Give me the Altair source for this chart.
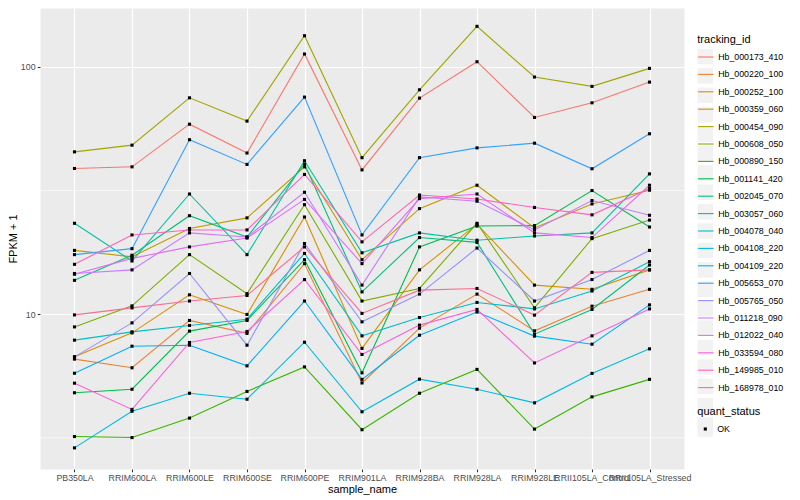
import altair as alt
import pandas as pd

samples = ["PB350LA", "RRIM600LA", "RRIM600LE", "RRIM600SE", "RRIM600PE", "RRIM901LA",
           "RRIM928BA", "RRIM928LA", "RRIM928LE", "RRII105LA_Control", "RRII105LA_Stressed"]

tracking_ids = ["Hb_000173_410", "Hb_000220_100", "Hb_000252_100", "Hb_000359_060", "Hb_000454_090",
                "Hb_000608_050", "Hb_000890_150", "Hb_001141_420", "Hb_002045_070", "Hb_003057_060",
                "Hb_004078_040", "Hb_004108_220", "Hb_004109_220", "Hb_005653_070", "Hb_005765_050",
                "Hb_011218_090", "Hb_012022_040", "Hb_033594_080", "Hb_149985_010", "Hb_168978_010"]

palette = ["#F8766D", "#EA8331", "#D89000", "#C09B00", "#A3A500", "#7CAE00", "#39B600", "#00BB4E",
           "#00BF7D", "#00C1A3", "#00BFC4", "#00BAE0", "#00B0F6", "#35A2FF", "#9590FF", "#C77CFF",
           "#E76BF3", "#FA62DB", "#FF62BC", "#FF6C91"]

Hb_000173_410 = [38.8, 39.4, 58.6, 44.8, 112.6, 38.3, 74.7, 104.8, 62.4, 71.5, 86.7]
Hb_000220_100 = [6.58, 6.07, 9.43, 8.36, 16.0, 5.27, 8.78, 12.05, 8.56, 10.77, 12.6]
Hb_000252_100 = [6.72, 8.40, 11.97, 9.97, 24.7, 7.27, 15.1, 23.1, 13.1, 12.6, 15.1]
Hb_000359_060 = [18.1, 17.05, 22.2, 24.5, 39.4, 16.6, 26.7, 33.2, 22.3, 27.9, 31.7]
Hb_000454_090 = [45.3, 48.2, 74.9, 60.3, 133.5, 42.9, 80.7, 145.7, 90.9, 83.3, 98.5]
Hb_000608_050 = [8.88, 10.8, 17.4, 12.1, 27.7, 11.3, 12.7, 23.3, 10.6, 20.2, 24.0]
Hb_000890_150 = [3.20, 3.17, 3.80, 4.87, 6.12, 3.41, 4.79, 5.98, 3.43, 4.63, 5.45]
Hb_001141_420 = [4.81, 4.97, 8.54, 9.43, 16.6, 5.79, 18.7, 22.7, 22.8, 31.6, 22.5]
Hb_002045_070 = [13.7, 17.3, 25.0, 20.5, 40.4, 12.3, 20.4, 19.5, 8.30, 10.45, 15.8]
Hb_003057_060 = [23.3, 16.4, 30.6, 17.4, 41.7, 17.7, 21.3, 19.9, 20.7, 21.3, 36.9]
Hb_004078_040 = [7.85, 8.48, 9.00, 9.54, 17.6, 8.17, 9.69, 11.15, 10.5, 12.4, 16.3]
Hb_004108_220 = [2.88, 4.05, 4.79, 4.53, 7.70, 4.03, 5.46, 4.97, 4.38, 5.76, 7.24]
Hb_004109_220 = [5.77, 7.42, 7.49, 6.18, 11.3, 5.45, 8.22, 10.2, 8.15, 7.56, 10.9]
Hb_005653_070 = [17.4, 18.4, 50.7, 40.3, 75.4, 20.9, 42.9, 47.0, 49.1, 38.7, 53.6]
Hb_005765_050 = [6.72, 9.22, 14.6, 7.49, 19.3, 9.31, 12.05, 18.5, 11.3, 13.8, 18.1]
Hb_011218_090 = [14.6, 15.1, 21.3, 20.5, 31.1, 13.1, 29.8, 28.6, 21.9, 28.8, 25.1]
Hb_012022_040 = [14.5, 16.8, 18.7, 20.3, 29.1, 16.0, 29.3, 30.6, 21.3, 20.4, 33.2]
Hb_033594_080 = [5.26, 4.12, 7.68, 8.51, 13.8, 6.87, 9.03, 10.45, 6.35, 8.17, 10.5]
Hb_149985_010 = [15.9, 20.9, 21.9, 21.9, 36.7, 19.6, 30.3, 29.2, 27.0, 25.2, 32.2]
Hb_168978_010 = [9.93, 10.6, 11.3, 11.9, 18.7, 10.07, 12.5, 12.7, 9.91, 14.75, 15.1]

series = [Hb_000173_410, Hb_000220_100, Hb_000252_100, Hb_000359_060, Hb_000454_090,
          Hb_000608_050, Hb_000890_150, Hb_001141_420, Hb_002045_070, Hb_003057_060,
          Hb_004078_040, Hb_004108_220, Hb_004109_220, Hb_005653_070, Hb_005765_050,
          Hb_011218_090, Hb_012022_040, Hb_033594_080, Hb_149985_010, Hb_168978_010]

major_breaks = [10, 100]
minor_breaks = [3.1623, 31.623]

key_ids = [t + "_key" for t in tracking_ids]

rows = []
for tid, kid, vals in zip(tracking_ids, key_ids, series):
    for i, (s, v) in enumerate(zip(samples, vals)):
        rows.append({"tracking_id": tid, "key": kid, "sample_name": s, "idx": i,
                     "fpkm": v, "quant_status": "OK", "qkey": "OK_key"})
df = pd.DataFrame(rows)
minor = pd.DataFrame({"fpkm": minor_breaks})

FONT = "Liberation Sans"
SQ = "M-0.2,-0.2H0.2V0.2H-0.2Z"

xenc = alt.X("sample_name:N", sort=samples,
             scale=alt.Scale(type="point", padding=0.6),
             axis=alt.Axis(title="sample_name", labelAngle=0, labelOverlap=False,
                           labelFont=FONT, labelFontSize=8.8, labelColor="#4D4D4D",
                           labelPadding=2.2, tickColor="#333333", tickSize=2.75, tickWidth=1.07,
                           domain=False, grid=True, gridColor="white", gridWidth=1.2,
                           titleFont=FONT, titleFontSize=11, titleFontWeight="normal",
                           titleColor="black", titleBaseline="alphabetic", titleY=23.5))

yscale = alt.Scale(type="log", domain=[2.366, 172.8], nice=False, zero=False)
yaxis = alt.Axis(values=major_breaks, format="d", title="FPKM + 1",
                 labelFont=FONT, labelFontSize=8.8, labelColor="#4D4D4D", labelPadding=2.2,
                 tickColor="#333333", tickSize=2.75, tickWidth=1.07, domain=False,
                 grid=True, gridColor="white", gridWidth=1.2,
                 titleFont=FONT, titleFontSize=11, titleFontWeight="normal", titleColor="black",
                 titleBaseline="alphabetic", titleX=-23.5)
yenc = alt.Y("fpkm:Q", scale=yscale, axis=yaxis)

common = dict(orient="none", direction="vertical", padding=0, titleFont=FONT, titleFontSize=11,
              titleFontWeight="normal", titleColor="black", titlePadding=4,
              labelFont=FONT, labelFontSize=8.8, labelColor="black", labelOffset=3.9,
              rowPadding=3.4, symbolSize=240, labelLimit=200, legendX=657.3)

legB = alt.Legend(title="tracking_id", legendY=25.5, symbolType="stroke", symbolStrokeWidth=1.1,
                  symbolOpacity=1, zindex=2, **common)
legA = alt.Legend(title=None, legendY=40.5, symbolType="square", symbolStrokeWidth=0,
                  symbolOpacity=1, labelExpr="''", zindex=0, **common)
legC = alt.Legend(title="quant_status", legendY=398, symbolFillColor="black", symbolStrokeWidth=0,
                  symbolOpacity=1, zindex=2, **common)
legD = alt.Legend(title=None, legendY=413, symbolType="square", symbolFillColor="#F2F2F2",
                  symbolStrokeWidth=0, labelExpr="''", zindex=0, **common)

rules = alt.Chart(minor).mark_rule(color="white", strokeWidth=0.6).encode(y=yenc)

lines = alt.Chart(df).mark_line(strokeWidth=1.1).encode(
    x=xenc, y=yenc,
    color=alt.Color("tracking_id:N", scale=alt.Scale(domain=tracking_ids, range=palette), legend=legB),
    order=alt.Order("idx:Q"))

points = alt.Chart(df).mark_point(filled=True, size=240, color="black", opacity=1, strokeWidth=0).encode(
    x=xenc, y=yenc,
    shape=alt.Shape("quant_status:N", scale=alt.Scale(domain=["OK"], range=[SQ]), legend=legC))

keys = alt.Chart(df).mark_point(filled=True, size=0, strokeWidth=0).encode(
    x=xenc, y=yenc,
    fill=alt.Fill("key:N", scale=alt.Scale(domain=key_ids, range=["#F2F2F2"] * 20), legend=legA),
    opacity=alt.Opacity("qkey:N", scale=alt.Scale(domain=["OK_key"], range=[1]), legend=legD))

chart = alt.layer(keys, rules, lines, points).properties(
    width=644, height=461,
    autosize=alt.AutoSizeParams(type="none"),
    padding={"left": 32, "top": 0, "right": 108, "bottom": 28},
    background="white",
).configure(font=FONT).configure_view(fill="#EBEBEB", stroke="transparent")

chart.save("out.html", embed_options={"renderer": "svg", "actions": False})
